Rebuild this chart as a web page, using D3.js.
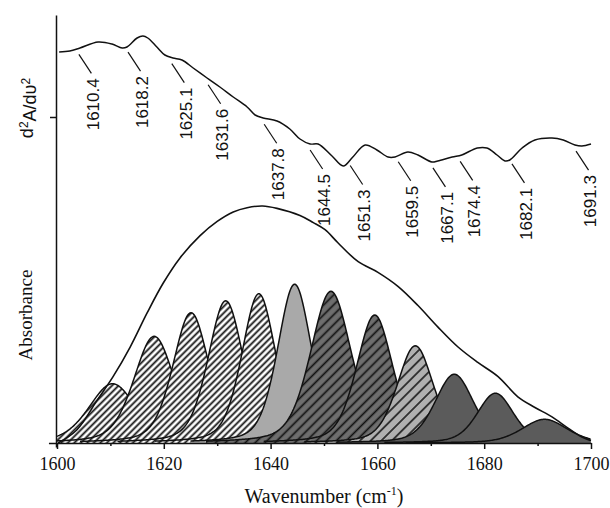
<!DOCTYPE html>
<html>
<head>
<meta charset="utf-8">
<script src="https://cdn.jsdelivr.net/npm/d3@7"></script>
<style>
  body { margin: 0; background: #fff; }
  svg { display: block; }
  .serif { font-family: "Liberation Serif", "Times New Roman", Times, serif; }
  .sans { font-family: "Liberation Sans", Arial, Helvetica, sans-serif; }
</style>
</head>
<body>
<div id="content"></div>
<script>
// Second derivative trace (wavenumber, arbitrary units).
var derivWn = [1600.4, 1602.4, 1604.3, 1607.7, 1610.3, 1612.2, 1613.1, 1615.0, 1616.1, 1617.0,
               1618.7, 1620.2, 1621.7, 1623.4, 1625.5, 1628.1, 1630.5, 1633.0, 1635.6, 1637.1,
               1638.6, 1641.2, 1643.6, 1645.5, 1647.4, 1648.9, 1651.5, 1653.6, 1655.4, 1657.7,
               1659.9, 1662.0, 1663.3, 1665.7, 1667.6, 1670.2, 1671.3, 1674.0, 1675.8, 1678.7,
               1680.5, 1682.4, 1683.9, 1684.8, 1687.1, 1689.5, 1692.7, 1694.8, 1697.0, 1698.3, 1700.0];
var derivVal = [0.65, 0.66, 0.69, 0.75, 0.73, 0.69, 0.70, 0.79, 0.81, 0.79,
                0.70, 0.62, 0.59, 0.57, 0.49, 0.39, 0.30, 0.20, 0.10, 0.02,
                -0.01, -0.04, -0.12, -0.22, -0.27, -0.27, -0.39, -0.49, -0.40, -0.28,
                -0.33, -0.40, -0.40, -0.35, -0.38, -0.45, -0.44, -0.40, -0.38, -0.31,
                -0.31, -0.38, -0.44, -0.43, -0.31, -0.23, -0.21, -0.23, -0.28, -0.29, -0.27];

// Absorbance envelope (normalised).
var envWn = [1600.2, 1603.7, 1607.5, 1610.5, 1613.7, 1616.9, 1619.9, 1623.0, 1626.8, 1630.0,
             1633.0, 1635.6, 1638.5, 1641.2, 1645.5, 1648.0, 1650.2, 1652.6, 1656.4, 1660.1,
             1663.9, 1667.6, 1671.3, 1675.1, 1678.8, 1682.6, 1686.3, 1689.5, 1692.7, 1695.7, 1698.3, 1700.0];
var envVal = [0, 0.055, 0.18, 0.28, 0.405, 0.55, 0.675, 0.78, 0.875, 0.935,
              0.975, 0.993, 1.0, 0.99, 0.96, 0.93, 0.90, 0.845, 0.765, 0.72,
              0.66, 0.58, 0.49, 0.405, 0.34, 0.28, 0.195, 0.15, 0.11, 0.063, 0.025, 0.01];

// Fitted component bands: centre, height, FWHM (cm-1).
var bandCenter = [1610.4, 1618.2, 1625.1, 1631.6, 1637.8, 1644.5, 1651.3, 1659.5, 1667.1, 1674.4, 1682.1, 1691.3];
var bandHeight = [0.25, 0.45, 0.55, 0.60, 0.63, 0.67, 0.64, 0.54, 0.41, 0.29, 0.21, 0.10];
var bandFwhm = [10.5, 9, 8, 7.8, 7.5, 7.5, 9, 8, 8, 8.5, 8, 10];

// Where each label's leader meets the derivative trace.
var leaderAt = [1604.1, 1613.3, 1621.5, 1628.3, 1638.8, 1647.4, 1654.9, 1663.9, 1670.4, 1675.5, 1685.2, 1697.2];

var xTicks = [1600, 1620, 1640, 1660, 1680, 1700];
var xMinorTicks = [1610, 1630, 1650, 1670, 1690];

// fill for each band, in band order
var bandFill = ['hatchW', 'hatchW', 'hatchW', 'hatchW', 'hatchW', 'solidL',
                'hatchD', 'hatchD', 'hatchL', 'solidD', 'solidD', 'solidD'];

var width = 610, height = 508;

var svg = d3.select('#content')
              .append('svg')
              .attr('width', width)
              .attr('height', height);

var x = d3.scaleLinear().domain([1600, 1700]).range([57, 591]);
var yAbs = d3.scaleLinear().domain([0, 1]).range([443, 206]);
var yDer = d3.scaleLinear().domain([-3.3, 1.02]).range([447, 15]);

// Patterns.
var defs = svg.append('defs');
function hatch(id, bg, gap, sw) {
  var p = defs.append('pattern')
      .attr('id', id)
      .attr('patternUnits', 'userSpaceOnUse')
      .attr('width', gap).attr('height', gap)
      .attr('patternTransform', 'rotate(45)');
  p.append('rect').attr('width', gap).attr('height', gap).attr('fill', bg);
  p.append('line')
      .attr('x1', gap / 2).attr('x2', gap / 2)
      .attr('y1', -1).attr('y2', gap + 1)
      .attr('stroke', '#111').attr('stroke-width', sw);
}
hatch('hatchW', '#fff', 4.6, 1.8);
hatch('hatchD', '#6e6e6e', 7, 1.7);
hatch('hatchL', '#b0b0b0', 7.5, 1.5);
var solid = {solidL: '#a9a9a9', solidD: '#5b5b5b'};

// Pseudo-Voigt band shape.
function band(wn, c, h, w) {
  var t = (wn - c) / (w / 2);
  return h * (0.65 * Math.exp(-Math.LN2 * t * t) + 0.35 / (1 + t * t));
}

var bandArea = d3.area()
    .x(function(d) { return x(d[0]); })
    .y0(yAbs(0))
    .y1(function(d) { return yAbs(d[1]); });
var bandLine = d3.line()
    .x(function(d) { return x(d[0]); })
    .y(function(d) { return yAbs(d[1]); });

var gb = svg.append('g');
bandCenter.forEach(function(c, i) {
  var w = bandFwhm[i];
  var lo = Math.max(1600, c - 2.6 * w), hi = Math.min(1700, c + 2.6 * w);
  var pts = d3.range(lo, hi + 0.001, 0.2).map(function(wn) {
    return [wn, band(wn, c, bandHeight[i], w)];
  });
  var f = bandFill[i];
  gb.append('path')
      .datum(pts)
      .attr('fill', solid[f] ? solid[f] : 'url(#' + f + ')')
      .attr('d', bandArea);
  gb.append('path')
      .datum(pts)
      .attr('fill', 'none')
      .attr('stroke', '#111')
      .attr('stroke-width', 1.5)
      .attr('d', bandLine);
});

// Envelope.
svg.append('path')
    .datum(d3.zip(envWn, envVal))
    .attr('fill', 'none')
    .attr('stroke', '#111')
    .attr('stroke-width', 1.6)
    .attr('d', d3.line()
                 .curve(d3.curveCatmullRom)
                 .x(function(d) { return x(d[0]); })
                 .y(function(d) { return yAbs(d[1]); }));

// Second derivative.
svg.append('path')
    .datum(d3.zip(derivWn, derivVal))
    .attr('fill', 'none')
    .attr('stroke', '#111')
    .attr('stroke-width', 1.5)
    .attr('d', d3.line()
                 .curve(d3.curveCatmullRom)
                 .x(function(d) { return x(d[0]); })
                 .y(function(d) { return yDer(d[1]); }));

// Peak labels with leaders.
function derivAt(wn) {
  var i = d3.bisectLeft(derivWn, wn);
  if (i <= 0) return derivVal[0];
  if (i >= derivWn.length) return derivVal[derivVal.length - 1];
  var t = (wn - derivWn[i - 1]) / (derivWn[i] - derivWn[i - 1]);
  return derivVal[i - 1] + t * (derivVal[i] - derivVal[i - 1]);
}
var gl = svg.append('g');
bandCenter.forEach(function(c, i) {
  var px = x(leaderAt[i]);
  var top = yDer(derivAt(leaderAt[i])) + 6;
  gl.append('line')
      .attr('x1', px).attr('y1', top)
      .attr('x2', px + 12.5).attr('y2', top + 19)
      .attr('stroke', '#111').attr('stroke-width', 1.2);
  gl.append('text')
      .attr('class', 'sans')
      .attr('transform', 'translate(' + (px + 14) + ',' + (top + 24) + ') rotate(-90)')
      .attr('text-anchor', 'end')
      .attr('dy', '0.35em')
      .attr('font-size', 17)
      .attr('fill', '#111')
      .text(c.toFixed(1));
});

// X axis.
var xAxisScale = x.copy().domain([1598.4, 1700]).range([x(1598.4), x(1700)]);
var gx = svg.append('g')
    .attr('transform', 'translate(0,443)')
    .call(d3.axisBottom(xAxisScale)
              .tickValues(xTicks)
              .tickSize(6)
              .tickSizeOuter(0)
              .tickFormat(d3.format('d')));
gx.attr('font-family', null).attr('font-size', null);
gx.selectAll('path, line').attr('stroke', '#111').attr('stroke-width', 1.5);
gx.selectAll('text')
    .attr('class', 'serif')
    .attr('y', 14)
    .attr('fill', '#111')
    .attr('font-size', 18);

var gxm = svg.append('g')
    .attr('transform', 'translate(0,443)')
    .call(d3.axisBottom(x).tickValues(xMinorTicks).tickSize(3).tickFormat(''));
gxm.select('.domain').remove();
gxm.selectAll('line').attr('stroke', '#111').attr('stroke-width', 1.5);

// Y axis (single tick at zero of derivative).
var gy = svg.append('g')
    .attr('transform', 'translate(' + (x(1600) - 1) + ',0)')
    .call(d3.axisLeft(yDer).tickValues([0]).tickSize(6).tickSizeOuter(0).tickFormat(''));
gy.selectAll('path, line').attr('stroke', '#111').attr('stroke-width', 1.5);

// Axis titles.
var xt = svg.append('text')
    .attr('class', 'serif')
    .attr('x', 324).attr('y', 503)
    .attr('text-anchor', 'middle')
    .attr('fill', '#111')
    .attr('font-size', 20);
xt.append('tspan').text('Wavenumber (cm');
xt.append('tspan').attr('dy', -8).attr('font-size', 12).text('-1');
xt.append('tspan').attr('dy', 8).text(')');

svg.append('text')
    .attr('class', 'serif')
    .attr('transform', 'translate(32,315) rotate(-90)')
    .attr('text-anchor', 'middle')
    .attr('fill', '#111')
    .attr('font-size', 19)
    .text('Absorbance');

var yt = svg.append('text')
    .attr('class', 'sans')
    .attr('transform', 'translate(33,108) rotate(-90)')
    .attr('text-anchor', 'middle')
    .attr('fill', '#111')
    .attr('font-size', 18);
yt.append('tspan').text('d');
yt.append('tspan').attr('dy', '-0.45em').attr('font-size', 12).text('2');
yt.append('tspan').attr('dy', '0.45em').text('A/d\u03c5');
yt.append('tspan').attr('dy', '-0.45em').attr('font-size', 12).text('2');
</script>
</body>
</html>
